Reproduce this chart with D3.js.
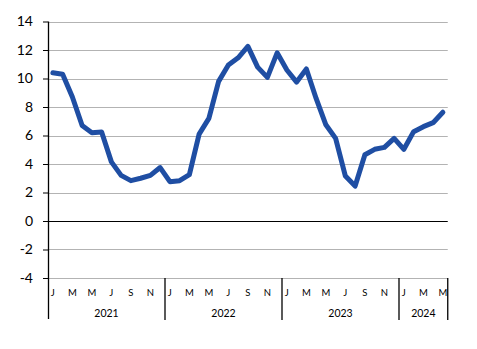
<!DOCTYPE html>
<html>
<head>
<meta charset="utf-8">
<script src="https://cdn.jsdelivr.net/npm/d3@7"></script>
<style>
  html, body { margin: 0; padding: 0; background: #fff; }
  svg { display: block; }
  text { font-family: Lato, "Open Sans", "Liberation Sans", sans-serif; fill: #000; }
</style>
</head>
<body>
<svg id="chart" width="477" height="349"></svg>
<script>
// Monthly series, January 2021 to May 2024
const years = ["2021", "2022", "2023", "2024"];
const monthsPerYear = [12, 12, 12, 5];
const monthLetters = ["J", "F", "M", "A", "M", "J", "J", "A", "S", "O", "N", "D"];
const values = [
  10.4, 10.3, 8.7, 6.7, 6.2, 6.25, 4.15, 3.2, 2.83, 3.0, 3.2, 3.75,
  2.76, 2.83, 3.25, 6.1, 7.2, 9.8, 10.95, 11.45, 12.25, 10.8, 10.08, 11.8,
  10.6, 9.75, 10.67, 8.6, 6.75, 5.8, 3.15, 2.45, 4.65, 5.03, 5.17, 5.8,
  5.03, 6.27, 6.62, 6.9, 7.63
];
const yTicks = [-4, -2, 0, 2, 4, 6, 8, 10, 12, 14];

// Build month records with year and letter
const months = [];
years.forEach((yr, yi) => {
  for (let m = 0; m < monthsPerYear[yi]; m++) {
    months.push({ key: yr + "-" + (m + 1), year: yr, m: m, letter: monthLetters[m] });
  }
});
const data = months.map((d, i) => ({ ...d, value: values[i] }));

const svg = d3.select("#chart");
const plot = { left: 48, right: 447.75, top: 21.5, bottom: 278 };

const x = d3.scaleBand().domain(months.map(d => d.key)).range([plot.left, plot.right]).padding(0);
const y = d3.scaleLinear().domain([-4, 14]).range([plot.bottom, plot.top]);

// Horizontal gridlines
svg.append("g")
  .selectAll("line")
  .data(yTicks.filter(t => t !== 0))
  .join("line")
  .attr("x1", plot.left).attr("x2", plot.right)
  .attr("y1", d => Math.round(y(d)) + 0.5).attr("y2", d => Math.round(y(d)) + 0.5)
  .attr("stroke", "#b3b3b3").attr("stroke-width", 1);

// Zero line
svg.append("line")
  .attr("x1", plot.left).attr("x2", plot.right)
  .attr("y1", Math.round(y(0)) + 0.5).attr("y2", Math.round(y(0)) + 0.5)
  .attr("stroke", "#000").attr("stroke-width", 1);

// Y axis
const yAxis = d3.axisLeft(y).tickValues(yTicks).tickSize(5).tickPadding(10)
  .tickFormat(d => d < 0 ? "-" + Math.abs(d) : d);
const gy = svg.append("g").attr("transform", `translate(${plot.left},0)`).call(yAxis);
gy.select(".domain").remove();
gy.selectAll(".tick line").attr("stroke", "#000");
gy.selectAll(".tick text").attr("font-size", 14).attr("font-family", "Lato, 'Open Sans', sans-serif").attr("fill", "#000");

// Vertical axis line extended through the category labels
svg.append("line")
  .attr("x1", plot.left + 0.5).attr("x2", plot.left + 0.5)
  .attr("y1", plot.top).attr("y2", 319)
  .attr("stroke", "#000").attr("stroke-width", 1.3);

// Month letters (every other month)
svg.append("g")
  .selectAll("text")
  .data(months.filter(d => d.m % 2 === 0))
  .join("text")
  .attr("x", d => x(d.key) + x.bandwidth() / 2)
  .attr("y", 296)
  .attr("text-anchor", "middle")
  .attr("font-size", 9.5)
  .text(d => d.letter);

// Year groups: separators and labels
let acc = 0;
const yearGroups = years.map((yr, yi) => {
  const start = acc; acc += monthsPerYear[yi];
  return { year: yr, first: months[start].key, last: months[acc - 1].key };
});
svg.append("g")
  .selectAll("line")
  .data(yearGroups)
  .join("line")
  .attr("x1", d => x(d.last) + x.bandwidth())
  .attr("x2", d => x(d.last) + x.bandwidth())
  .attr("y1", plot.bottom).attr("y2", 320)
  .attr("stroke", "#000").attr("stroke-width", 1.3);
svg.append("g")
  .selectAll("text")
  .data(yearGroups)
  .join("text")
  .attr("x", d => (x(d.first) + x(d.last) + x.bandwidth()) / 2)
  .attr("y", 317)
  .attr("text-anchor", "middle")
  .attr("font-size", 10.5)
  .text(d => d.year);

// Series line
const line = d3.line()
  .x(d => x(d.key) + x.bandwidth() / 2)
  .y(d => y(d.value));
svg.append("path")
  .datum(data)
  .attr("d", line)
  .attr("fill", "none")
  .attr("stroke", "#1f4ea3")
  .attr("stroke-width", 5)
  .attr("stroke-linejoin", "round")
  .attr("stroke-linecap", "round");
</script>
</body>
</html>
